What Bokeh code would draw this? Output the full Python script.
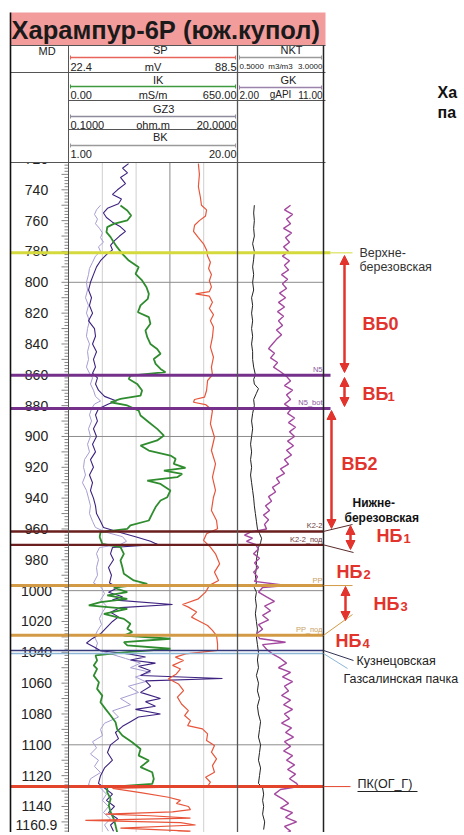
from bokeh.plotting import figure
from bokeh.models import Range1d, Arrow, NormalHead
from bokeh.core.properties import value
from bokeh.embed import file_html
from bokeh.resources import INLINE

# ---------------- DATA ----------------
TITLE = "Харампур-6Р (юж.купол)"

# scale ends for each log: (min, max)
SP_SCALE = (22.4, 88.5)
IK_SCALE = (0.0, 650.0)
GZ3_SCALE = (0.1, 20.0)
BK_SCALE = (1.0, 20.0)
NKT_SCALE = (0.5, 3.0)
GK_SCALE = (2.0, 11.0)
HEADER_LABELS = {
    "SP": ("22.4", "mV", "88.5"),
    "IK": ("0.00", "mS/m", "650.00"),
    "GZ3": ("0.1000", "ohm.m", "20.0000"),
    "BK": ("1.00", "", "20.00"),
    "NKT": ("0.5000", "m3/m3", "3.0000"),
    "GK": ("2.00", "gAPI", "11.00"),
}

DEPTH_TICKS = [720, 740, 760, 780, 800, 820, 840, 860, 880, 900, 920, 940, 960,
               980, 1000, 1020, 1040, 1060, 1080, 1100, 1120, 1140]
DEPTH_TICK_LABELS = [str(t) for t in DEPTH_TICKS]
BOTTOM_LABEL = "1160.9"
GRID_DEPTHS = [800, 900, 1000, 1100]

SP_DEPTH = [723, 730, 738, 745, 750, 753, 757, 760, 763, 767, 771, 775, 779, 783, 787, 791, 795, 799,
            803, 806, 807.5, 809, 813, 817, 821, 825, 829, 835.6, 842, 848.6, 855, 860, 863.7, 870.2,
            874.5, 876, 877.8, 879.3, 883.2, 891.8, 900.5, 909.1, 917.8, 926.4, 935, 939.4, 948, 954.5,
            959.9, 963.1, 967.4, 971.8, 976.1, 982.6, 988, 993.4, 996.6, 1001, 1005.3, 1009, 1010.7,
            1013.9, 1017.2, 1019.8, 1022.6, 1025.8, 1029.1, 1034.5, 1038.8, 1041, 1043.1, 1045.3,
            1048.5, 1050.8, 1054, 1057.2, 1060.5, 1064.8, 1069.1, 1073.5, 1077.8, 1081, 1084.3, 1087.5,
            1089.7, 1092.9, 1097.2, 1100.5, 1104.8, 1109.1, 1113.5, 1117.8, 1121, 1124.3, 1126.9,
            1128.2, 1131, 1134, 1136, 1138, 1140, 1142, 1143.5, 1145, 1146, 1147.5, 1149, 1150.5,
            1152, 1154, 1156, 1158]
SP_MV = [73.2, 73.6, 73.2, 74.0, 74.4, 76.4, 76.0, 73.6, 71.7, 71.3, 73.2, 75.2, 76.4, 76.8, 77.9, 77.2,
         78.3, 77.5, 78.3, 77.5, 72.1, 77.5, 78.7, 77.5, 79.1, 77.9, 79.1, 78.7, 77.9, 79.1, 78.3, 78.7,
         76.8, 76.4, 75.6, 71.7, 71.3, 76.0, 78.7, 77.9, 79.5, 78.3, 79.9, 78.7, 79.9, 79.1, 78.3, 80.3,
         80.7, 76.4, 75.2, 77.9, 79.9, 81.5, 79.5, 81.1, 77.5, 76.0, 73.2, 67.0, 69.3, 72.5, 70.5, 73.6,
         76.8, 78.7, 80.3, 80.7, 80.7, 68.2, 64.2, 67.4, 63.1, 66.2, 64.6, 61.5, 65.4, 67.4, 65.0, 66.6,
         69.3, 67.8, 70.1, 69.0, 74.8, 76.8, 76.4, 79.5, 78.3, 80.3, 78.7, 79.5, 76.0, 77.9, 76.8,
         39.6, 50.6, 61.5, 66.2, 64.6, 69.3, 70.1, 63.1, 36.9, 54.5, 70.1, 29.0, 66.2, 72.1, 42.7,
         70.1, 58.4]

IK_DEPTH = [750.2, 753.4, 756.7, 759.9, 762.1, 764.2, 767.5, 770.7, 774, 777.2, 781.5, 785.9, 790.2,
            794.5, 798.8, 803.2, 807.5, 810.7, 815, 819.4, 822.6, 826.9, 831.3, 835.6, 840, 843.2,
            846.4, 849.7, 852.9, 856.2, 858.3, 860.5, 862.7, 865.9, 870.2, 873.5, 875.6, 877.8, 879.9,
            883.2, 886.4, 890.8, 895.1, 899.4, 902.6, 905.9, 909.1, 912.4, 914.5, 917.8, 920.4, 922.1,
            924.3, 926.4, 928.6, 930.8, 935, 939.4, 941.5, 945.8, 950.1, 954.5, 957.7, 959.9, 962,
            965.3, 969.6, 971.8, 976.1, 980.4, 984.7, 989.1, 993.4, 995.6, 998.1, 1001, 1003.1, 1005.3,
            1007.4, 1009.6, 1011.8, 1015, 1018.3, 1021.5, 1024.7, 1026.9, 1029.1, 1031.2, 1033.4,
            1035.5, 1037.7, 1039.9, 1042, 1045.3, 1048.5, 1050.8, 1055.1, 1059.4, 1063.7, 1068.1,
            1072.4, 1076.7, 1081, 1085.4, 1089.7, 1094, 1098.3, 1102.7, 1107, 1110.2, 1114.5, 1117.8,
            1122.1, 1125.4, 1127.5, 1130.8, 1135.1, 1139.4, 1143.7, 1148.1, 1152.4, 1156.7]
IK_MSM = [200, 226, 241, 226, 174, 149, 146, 162, 174, 187, 207, 232, 270, 258, 283, 300, 309, 305, 277,
          267, 309, 315, 296, 303, 315, 341, 354, 328, 335, 354, 373, 238, 232, 264, 283, 277, 200, 162,
          226, 270, 277, 309, 341, 367, 341, 277, 309, 392, 412, 405, 450, 367, 437, 418, 303, 354, 392,
          380, 354, 335, 322, 309, 238, 226, 123, 120, 130, 200, 213, 200, 207, 213, 251, 303, 174, 226,
          149, 226, 123, 78, 226, 136, 213, 238, 226, 245, 213, 392, 213, 226, 392, 226, 104, 110, 97,
          110, 97, 117, 110, 130, 123, 142, 162, 181, 187, 207, 245, 277, 270, 309, 277, 322, 328, 322,
          149, 149, 162, 155, 162, 174, 181, 187]

GZ3_DEPTH = [723, 726, 729, 732, 736, 740, 743, 746, 749, 752, 755, 758, 761, 764, 767, 770, 773, 776,
             779, 782, 786, 790, 795, 800, 805, 810, 815, 820, 825, 830, 835, 840, 845, 850, 855, 859,
             862, 866, 870, 874, 877, 879, 882, 886, 890, 895, 900, 905, 910, 915, 920, 925, 930, 935,
             940, 945, 950, 955, 959, 962, 965, 968, 970, 972, 976, 980, 985, 990, 995, 998, 1001,
             1004, 1006, 1009, 1011, 1014, 1017, 1020, 1024, 1028, 1031, 1034, 1037, 1039, 1041, 1043,
             1045, 1047, 1049, 1052, 1055, 1057, 1058.5, 1062, 1066, 1070, 1072, 1075, 1077, 1080,
             1082, 1085, 1088, 1092, 1096, 1100, 1105, 1110, 1115, 1120, 1125, 1128, 1132, 1136, 1140,
             1144, 1148, 1152, 1156]
GZ3_OHMM = [7.17, 6.46, 7.05, 6.22, 6.81, 5.87, 5.28, 6.34, 5.99, 4.69, 4.22, 4.57, 5.28, 6.22, 6.81,
            6.11, 5.52, 5.05, 5.28, 4.57, 3.87, 3.40, 3.04, 2.69, 2.46, 2.81, 2.57, 2.93, 2.46, 3.16,
            3.28, 2.93, 3.40, 3.04, 3.28, 2.93, 3.51, 3.28, 3.63, 4.34, 5.75, 4.81, 3.63, 3.28, 3.51,
            3.04, 3.40, 2.93, 3.28, 2.69, 3.04, 2.57, 2.93, 2.69, 3.04, 3.28, 3.40, 3.87, 4.22, 5.99,
            7.99, 9.76, 10.58, 5.28, 5.05, 5.40, 4.81, 5.16, 4.93, 5.99, 4.81, 6.46, 5.28, 12.35, 6.22,
            5.05, 5.99, 5.28, 4.57, 3.87, 2.93, 2.22, 3.28, 3.87, 7.17, 9.17, 7.40, 10.34, 8.34, 9.76,
            8.58, 18.23, 9.17, 9.76, 8.58, 10.93, 9.17, 10.34, 7.99, 10.93, 8.34, 7.40, 6.46, 5.63,
            5.99, 5.05, 4.69, 5.28, 4.34, 3.87, 3.63, 4.34, 5.28, 4.57, 5.52, 4.81, 5.87, 5.05, 5.40]

BK_DEPTH = [750, 753, 756, 759, 762, 765, 768, 771, 774, 777, 780, 783, 787, 791, 795, 800, 805, 810,
            815, 820, 825, 830, 835, 840, 845, 850, 855, 859, 862, 866, 870, 874, 877, 879, 882, 886,
            890, 895, 900, 905, 910, 915, 920, 925, 930, 935, 940, 945, 950, 955, 959, 962, 965, 968,
            970, 972, 976, 980, 985, 990, 995, 998, 1002, 1006, 1010, 1014, 1018, 1022, 1026, 1030,
            1034, 1038, 1041, 1044, 1047, 1050, 1053, 1056, 1059, 1062, 1066, 1070, 1074, 1078, 1082,
            1086, 1090, 1094, 1098, 1102, 1106, 1110, 1114, 1118, 1122, 1126, 1128, 1132, 1136, 1140,
            1144, 1148, 1152, 1156]
BK_VAL = [4.60, 4.15, 3.92, 4.26, 4.03, 4.48, 4.82, 4.60, 4.93, 4.37, 4.60, 4.03, 3.70, 3.36, 3.25,
          3.02, 3.14, 2.91, 3.25, 3.02, 3.36, 3.14, 3.02, 3.36, 3.14, 3.25, 3.02, 3.36, 3.70, 3.47,
          3.81, 4.03, 4.60, 3.92, 3.59, 3.36, 3.59, 3.25, 3.47, 3.14, 3.36, 2.80, 2.69, 2.91, 2.57,
          3.02, 3.25, 3.47, 3.36, 3.70, 4.03, 5.16, 7.07, 7.52, 6.84, 4.48, 4.15, 4.37, 4.15, 4.26,
          3.81, 4.71, 5.05, 4.60, 5.27, 4.82, 4.48, 4.71, 4.26, 3.92, 4.26, 4.03, 5.72, 7.41, 9.09,
          7.97, 10.22, 8.53, 9.65, 7.74, 8.87, 6.84, 7.97, 5.95, 6.62, 5.05, 4.60, 4.82, 3.70, 4.15,
          3.47, 4.37, 3.92, 4.60, 3.47, 3.25, 4.60, 5.27, 4.82, 5.50, 4.93, 5.72, 5.05, 5.50]

NKT_DEPTH = [750, 755, 760, 765, 770, 775, 780, 785, 790, 795, 800, 805, 810, 815, 820, 825, 830, 835,
             840, 845, 850, 855, 860, 863, 866, 869, 872, 876, 880, 885, 890, 895, 900, 905, 910, 915,
             920, 925, 930, 935, 940, 945, 950, 955, 960, 963, 966, 969, 972, 976, 980, 985, 990, 995,
             998, 1001, 1005, 1010, 1015, 1020, 1025, 1030, 1035, 1040, 1045, 1050, 1055, 1060, 1065,
             1070, 1075, 1080, 1085, 1090, 1095, 1100, 1105, 1110, 1115, 1120, 1125, 1128, 1132, 1136,
             1140, 1145, 1150, 1155]
NKT_VAL = [0.99, 0.97, 0.99, 0.97, 0.99, 0.94, 0.99, 0.97, 0.94, 0.97, 0.94, 0.97, 0.91, 0.94, 0.91,
           0.94, 0.91, 0.94, 0.91, 0.94, 0.94, 0.97, 1.02, 0.97, 0.99, 1.11, 1.05, 0.97, 0.99, 0.94,
           0.91, 0.94, 0.91, 0.88, 0.91, 0.88, 0.91, 0.88, 0.91, 0.94, 0.97, 0.99, 1.02, 1.05, 1.08,
           1.14, 1.20, 1.17, 1.11, 1.08, 1.05, 1.05, 1.02, 1.05, 0.99, 1.05, 1.02, 1.05, 1.02, 1.05,
           1.08, 1.05, 1.08, 1.11, 1.08, 1.11, 1.05, 1.11, 1.08, 1.14, 1.08, 1.11, 1.17, 1.14, 1.11,
           1.17, 1.14, 1.11, 1.17, 1.14, 1.11, 1.23, 1.26, 1.23, 1.26, 1.23, 1.29, 1.26]

GK_DEPTH = [750, 753, 756, 759, 762, 765, 768, 771, 774, 777, 780, 783, 786, 789, 792, 795, 798, 801,
            804, 807, 810, 813, 816, 819, 822, 825, 828, 831, 834, 837, 840, 843, 846, 849, 852, 855,
            858, 861, 864, 867, 870, 873, 876, 879, 882, 885, 888, 891, 894, 897, 900, 903, 906, 909,
            912, 915, 918, 921, 924, 927, 930, 933, 936, 939, 942, 945, 948, 951, 954, 957, 960, 962,
            964, 966, 968, 970, 973, 976, 979, 982, 985, 988, 991, 994, 996.7, 998, 1001, 1004, 1007,
            1010, 1013, 1016, 1019, 1022, 1025, 1028, 1031, 1033.5, 1035, 1038, 1041, 1044, 1047,
            1050, 1053, 1056, 1059, 1062, 1065, 1068, 1071, 1074, 1077, 1080, 1083, 1086, 1089, 1092,
            1095, 1098, 1101, 1104, 1107, 1110, 1113, 1116, 1119, 1122, 1125, 1127, 1129, 1132, 1135,
            1138, 1141, 1144, 1147, 1150, 1153, 1156, 1159]
GK_GAPI = [7.55, 6.92, 7.76, 7.13, 7.55, 6.82, 7.65, 7.03, 7.44, 6.82, 7.34, 6.71, 7.44, 6.92, 7.34,
           6.61, 7.24, 6.71, 7.13, 6.40, 7.03, 6.29, 6.92, 6.19, 6.82, 6.29, 6.71, 6.08, 6.61, 6.08,
           5.66, 5.25, 5.87, 5.46, 6.19, 5.77, 6.50, 7.13, 7.55, 6.92, 7.76, 7.13, 7.55, 6.92, 7.65,
           7.24, 7.97, 7.34, 8.07, 7.44, 7.97, 7.24, 7.86, 7.13, 7.65, 6.92, 7.34, 6.50, 6.92, 6.08,
           6.40, 5.66, 5.98, 5.25, 5.56, 4.93, 5.35, 4.72, 5.25, 4.83, 5.04, 3.36, 2.73, 3.57, 2.94,
           3.88, 4.20, 3.68, 4.30, 3.78, 4.20, 3.68, 4.09, 3.78, 7.13, 4.62, 4.20, 5.04, 5.87, 4.83,
           5.46, 4.62, 5.25, 4.20, 4.62, 3.99, 4.30, 7.03, 4.62, 5.04, 5.66, 6.50, 7.13, 6.29, 7.55,
           6.71, 7.76, 6.92, 7.34, 6.61, 7.55, 6.82, 7.76, 6.92, 7.44, 6.61, 7.65, 7.03, 7.86, 6.92,
           7.55, 6.82, 7.76, 7.13, 7.97, 7.24, 8.07, 7.44, 8.18, 8.39, 6.50, 5.87, 6.71, 7.34, 6.50,
           7.76, 7.03, 8.18, 6.92, 7.55, 6.50]

# formation tops
TOP_DEPTHS = [780.9, 860.3, 881.8, 961.6, 970.3, 996.7, 1029.0, 1038.8, 1040.8, 1127.1]
TOP_CODES = ["", "N5", "N5_bot", "K2-2", "K2-2_под", "PP", "PP_под", "", "", ""]
TOP_NAMES = ["Верхне-\nберезовская", "", "", "", "", "", "", "Кузнецовская", "Газсалинская пачка", "ПК(ОГ_Г)"]

# ---------------- LAYOUT / STYLE ----------------
W, H = 460, 832
X0, X1 = 0, W
Y0, Y1 = 0, H
PX_PER_M = 1.5417
D_REF, Y_REF = 740.0, 189.3
D_TOP = D_REF - (Y_REF - Y0) / PX_PER_M
D_BOT = D_REF + (Y1 - Y_REF) / PX_PER_M


def ypx(d):
    return Y_REF + (d - D_REF) * PX_PER_M


L, T1, T2, T3 = 10, 68, 237, 323   # track borders
HEAD_TOP, HEAD_BOT = 45, 162
FONT = "Liberation Sans"
RED = "#e2332d"

p = figure(width=W, height=H, x_range=Range1d(X0, X1), y_range=Range1d(D_BOT, D_TOP),
           output_backend="svg", toolbar_location=None, min_border=0,
           x_axis_type=None, y_axis_type=None, background_fill_color="white")
p.outline_line_color = None
p.extra_y_ranges = {"px": Range1d(Y1, Y0)}


def track_range(lo, hi, a, b):
    k = (hi - lo) / (b - a)
    return Range1d(lo - (a - X0) * k, lo + (X1 - a) * k)


p.extra_x_ranges = {
    "sp": track_range(*SP_SCALE, T1, T2),
    "ik": track_range(*IK_SCALE, T1, T2),
    "gz3": track_range(*GZ3_SCALE, T1, T2),
    "bk": track_range(*BK_SCALE, T1, T2),
    "nkt": track_range(*NKT_SCALE, T2, T3),
    "gk": track_range(*GK_SCALE, T2, T3),
}


def txt(x, y, s, size, color="#222222", align="left", baseline="middle", bold=False, rng="px"):
    p.text(x=[x], y=[y], text=[s], text_font=value(FONT), text_font_size=f"{size}px",
           text_color=color, text_align=align, text_baseline=baseline,
           text_font_style="bold" if bold else "normal", y_range_name=rng)


def seg(x0, y0, x1, y1, color, width=1.0, rng="px", alpha=1.0):
    p.segment(x0=[x0], y0=[y0], x1=[x1], y1=[y1], line_color=color, line_width=width,
              y_range_name=rng, line_alpha=alpha)


# grid in track 2
for i in range(1, 5):
    gx = T1 + (T2 - T1) * i / 5
    seg(gx, HEAD_BOT, gx, Y1, "#8a8a8a" if i == 3 else "#cfcfcf", 1)
for gd in GRID_DEPTHS:
    p.segment(x0=[T1], x1=[T3], y0=[gd], y1=[gd], line_color="#8c8c8c", line_width=1)

# depth ticks and labels
d = 722
while d <= 1160:
    ln = 7 if d % 10 == 0 else 4
    p.segment(x0=[T1 - ln], x1=[T1], y0=[d], y1=[d], line_color="#666666", line_width=0.8)
    d += 2
for t, lab in zip(DEPTH_TICKS, DEPTH_TICK_LABELS):
    txt(36, t, lab, 14, "#222222", "center", rng="default")
txt(36, 1152.0, BOTTOM_LABEL, 14, "#222222", "center", rng="default")

# curves
p.line(BK_VAL, BK_DEPTH, x_range_name="bk", line_color="#a79dd2", line_width=1.0)
p.line(GZ3_OHMM, GZ3_DEPTH, x_range_name="gz3", line_color="#3d2280", line_width=1.1)
p.line(IK_MSM, IK_DEPTH, x_range_name="ik", line_color="#2f8c2f", line_width=1.8)
p.line(SP_MV, SP_DEPTH, x_range_name="sp", line_color="#e8553a", line_width=1.2)
p.line(NKT_VAL, NKT_DEPTH, x_range_name="nkt", line_color="#222222", line_width=1.0)
p.line(GK_GAPI, GK_DEPTH, x_range_name="gk", line_color="#a3479f", line_width=1.4)

# formation lines
TOP_COLORS = ["#d5da3c", "#74308a", "#74308a", "#6a1e1e", "#6a1e1e", "#d39a45", "#d39a45",
              "#353a7a", "#8bb6d6", "#e2452c"]
TOP_WIDTHS = [3, 3, 3, 2.5, 2.2, 3, 3, 1.5, 1.5, 3]
TOP_XEND = [330, 330, 330, 323, 323, 323, 323, 323, 323, 323]
p.segment(x0=[L] * len(TOP_DEPTHS), x1=TOP_XEND, y0=TOP_DEPTHS, y1=TOP_DEPTHS,
          line_color=TOP_COLORS, line_width=TOP_WIDTHS)
CODE_COLORS = ["", "#8a5a9c", "#8a5a9c", "#6e4040", "#6e4040", "#c9a266", "#c9a266", "", "", ""]
for dd, code, cc in zip(TOP_DEPTHS, TOP_CODES, CODE_COLORS):
    if code:
        p.text(x=[T3 - 1], y=[dd], text=[code], text_font=value(FONT), text_font_size="7.5px",
               text_color=cc, text_align="right", text_baseline="bottom", y_offset=-1)

# header mask + header
p.quad(left=[L], right=[325], top=[Y0], bottom=[HEAD_BOT], fill_color="white", line_color=None,
       y_range_name="px")
p.quad(left=[L], right=[325], top=[12], bottom=[HEAD_TOP], fill_color="#f39c9c", line_color=None,
       y_range_name="px")
txt(11, 29, TITLE, 25.5, "#1a1a1a", "left", bold=True)

txt(38, 50, "MD", 11)
head_rows = [  # name, x-left, x-right, title y, line y, labels y, line color, font size
    ("SP", T1, T2, 49, 57, 66, "#e8645a", 11),
    ("IK", T1, T2, 79, 86, 94, "#3f9a3f", 11),
    ("GZ3", T1, T2, 108, 116, 124, "#8c8c9c", 11),
    ("BK", T1, T2, 136, 145, 153, "#9a9a9a", 11),
    ("NKT", T2, T3, 49, 57, 66, "#9a9a9a", 8),
    ("GK", T2, T3, 79, 87, 94, "#9a84aa", 10),
]
for name, a, b, ty, ly, vy, lc, fs in head_rows:
    cx = (a + b) / 2
    txt(cx, ty, name, 11)
    seg(a + 2, ly, b - 2, ly, lc, 1.6)
    seg(a + 2, ly - 2, a + 2, ly + 2, lc, 1)
    seg(b - 2, ly - 2, b - 2, ly + 2, lc, 1)
    lo, unit, hi = HEADER_LABELS[name]
    txt(a + 2, vy, lo, fs, align="left")
    if unit:
        txt(cx, vy, unit, fs, align="center")
    txt(b - 1, vy, hi, fs, align="right")

# header grid lines
for (x0, y0, x1, y1) in [(L, HEAD_TOP, 325, HEAD_TOP), (L, 72, 325, 72), (T1, 100, 325, 100),
                         (T1, 129, T2, 129), (L, HEAD_BOT, 325, HEAD_BOT)]:
    seg(x0, y0, x1, y1, "#555555", 1)

# track borders
seg(L, 12, L, Y1, "#111111", 1.6)
seg(T1, HEAD_TOP, T1, Y1, "#555555", 1)
seg(T2, HEAD_TOP, T2, Y1, "#555555", 1.3)
seg(T3, HEAD_TOP, T3, Y1, "#222222", 1.5)

# right-side annotations: leaders
leaders = [
    (330, ypx(TOP_DEPTHS[0]), 352, ypx(TOP_DEPTHS[0]), TOP_COLORS[0]),
    (T3, ypx(TOP_DEPTHS[3]), 352, 524, "#5a2a2a"),
    (T3, ypx(TOP_DEPTHS[4]), 353, 552, "#5a2a2a"),
    (T3, ypx(TOP_DEPTHS[5]), 352, ypx(TOP_DEPTHS[5]), TOP_COLORS[5]),
    (T3, ypx(TOP_DEPTHS[6]), 352, 614, TOP_COLORS[6]),
    (T3, ypx(TOP_DEPTHS[7]), 353, 660, "#333355"),
    (T3, ypx(TOP_DEPTHS[8]), 347, 668, TOP_COLORS[8]),
    (T3, ypx(TOP_DEPTHS[9]), 350, ypx(TOP_DEPTHS[9]), TOP_COLORS[9]),
]
for x0, y0, x1, y1, c in leaders:
    seg(x0, y0, x1, y1, c, 1)

txt(359, 252, "Верхне-", 12.5, "#333333")
txt(359, 266, "березовская", 12.5, "#333333")
txt(352, 502, "Нижне-", 12, "#111111", bold=True)
txt(344, 517, "березовская", 12, "#111111", bold=True)
txt(356, 660, TOP_NAMES[7], 12.5, "#222222")
txt(343, 678, TOP_NAMES[8], 12.5, "#222222")
txt(357, 783, TOP_NAMES[9], 12.5, "#222222")
seg(357, 791, 417, 791, "#222222", 1)

# zone labels
txt(362, 323, "ВБ0", 18, RED, bold=True)
txt(341, 463, "ВБ2", 18, RED, bold=True)
for (x, y, main, sub, w) in [(362, 393, "ВБ", "1", 25), (376, 535, "НБ", "1", 27),
                             (336, 571, "НБ", "2", 27), (373, 603, "НБ", "3", 27),
                             (335, 640, "НБ", "4", 27)]:
    txt(x, y, main, 18, RED, bold=True)
    txt(x + w, y + 3, sub, 13, RED, bold=True)

# arrows
for (x, ya, yb) in [(344, 255, 372), (344, 377, 406), (331, 410, 528), (350, 525, 549), (345, 586, 620)]:
    p.add_layout(Arrow(start=NormalHead(size=9, fill_color=RED, line_color=RED),
                       end=NormalHead(size=9, fill_color=RED, line_color=RED),
                       x_start=x, y_start=ya, x_end=x, y_end=yb, line_color=RED, line_width=2.5,
                       y_range_name="px"))

txt(437, 92, "Ха", 16, "#111111", bold=True)
txt(437, 112, "па", 16, "#111111", bold=True)

open("out.html", "w").write(file_html(p, INLINE))
